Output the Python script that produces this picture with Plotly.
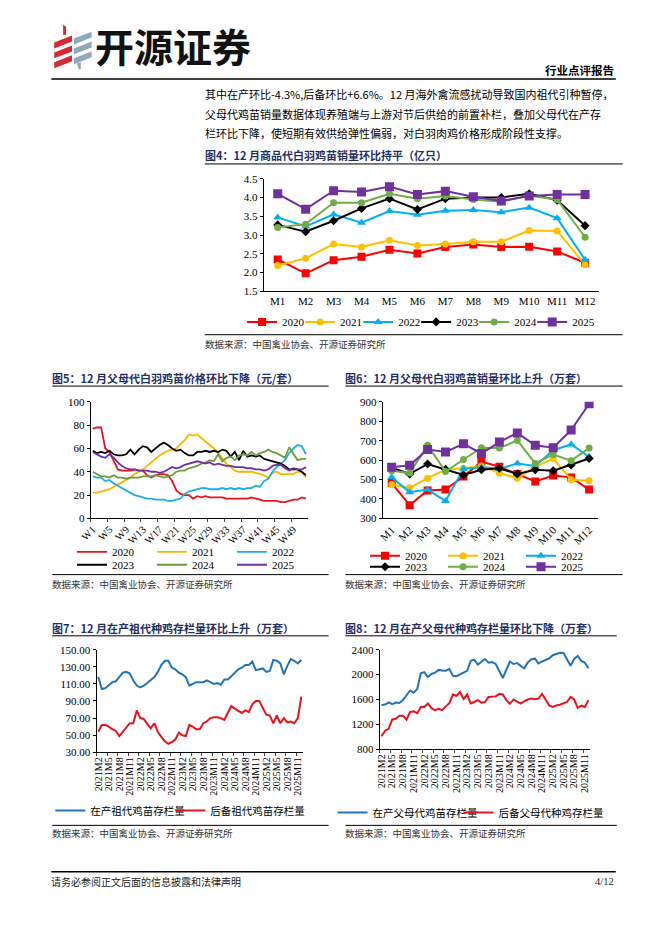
import plotly.graph_objects as go

W, H = 662, 936


def fx(p):
    return p / W


def fy(p):
    return 1 - p / H


SERIF = "Liberation Serif, Noto Sans CJK SC, serif"
CJK = "Noto Sans CJK SC, sans-serif"
NAVY = "#1F3064"

# ---------------- data ----------------
years = ["2020", "2021", "2022", "2023", "2024", "2025"]
months = ["M1", "M2", "M3", "M4", "M5", "M6", "M7", "M8", "M9", "M10", "M11", "M12"]
weeks = ["W%d" % i for i in range(1, 53)]
ym_labels = []
_y, _m = 2021, 2
for _ in range(59):
    ym_labels.append("%dM%d" % (_y, _m))
    _m += 1
    if _m > 12:
        _m, _y = 1, _y + 1

# Fig 4: commercial chick sales (100m)
c4_2020 = [2.35, 1.98, 2.33, 2.42, 2.61, 2.51, 2.68, 2.75, 2.68, 2.69, 2.56, 2.26]
c4_2021 = [2.19, 2.38, 2.76, 2.68, 2.86, 2.72, 2.76, 2.82, 2.82, 3.12, 3.11, 2.21]
c4_2022 = [3.47, 3.23, 3.55, 3.33, 3.64, 3.54, 3.65, 3.67, 3.61, 3.73, 3.45, 2.34]
c4_2023 = [3.27, 3.09, 3.38, 3.71, 3.97, 3.68, 3.97, 4.00, 4.00, 4.10, 3.93, 3.25]
c4_2024 = [3.20, 3.29, 3.86, 3.86, 4.10, 3.97, 4.04, 3.95, 3.89, 4.05, 3.95, 2.94]
c4_2025 = [4.10, 3.69, 4.18, 4.15, 4.29, 4.08, 4.17, 4.02, 3.91, 4.04, 4.08, 4.08]

# Fig 5: parent stock chick price (yuan/set), weekly
c5_2020 = [77, 78, 78, 60, 57, 50, 42, 41, 41, 41, 42, 41, 41, 37, 35, 37, 38, 38, 37, 32,
           24, 21, 20, 20, 17, 19, 18, 19, 18, 18, 18, 18, 17, 17, 17, 17, 17, 17, 18, 17,
           16, 15, 15, 15, 15, 14, 14, 15, 16, 16, 18, 17]
c5_2021 = [22, 22, 23, 24, 25, 27, 29, 31, 33, 35, 38, 40, 42, 45, 48, 51, 54, 56, 58, 59,
           60, 64, 67, 72, 71, 72, 69, 66, 63, 60, 56, 51, 47, 44, 41, 40, 40, 40, 40, 39,
           38, 37, 35, 39, 40, 38, 38, 38, 38, 40, 40, 35]
c5_2022 = [36, 35, 35, 32, 33, 30, 28, 26, 24, 22, 20, 19, 18, 17, 17, 16, 16, 16, 15, 15,
           16, 17, 21, 23, 24, 25, 26, 26, 25, 25, 25, 26, 25, 26, 25, 26, 25, 26, 26, 28,
           27, 32, 34, 40, 44, 47, 50, 56, 60, 63, 62, 55]
c5_2023 = [58, 56, 57, 56, 58, 55, 54, 54, 55, 59, 55, 59, 62, 61, 57, 60, 63, 65, 63, 60,
           58, 59, 56, 54, 54, 57, 57, 58, 57, 58, 57, 59, 58, 53, 57, 50, 58, 53, 54, 53,
           54, 51, 50, 49, 48, 47, 45, 42, 42, 42, 40, 37]
c5_2024 = [40, 38, 36, 36, 35, 37, 35, 35, 34, 35, 35, 35, 36, 36, 36, 37, 36, 35, 36, 37,
           40, 41, 41, 43, 44, 45, 47, 48, 50, 49, 55, 49, 52, 53, 50, 54, 55, 54, 57, 54,
           56, 57, 59, 57, 56, 54, 52, 61, 55, 50, 51, 51]
c5_2025 = [57, 55, 53, 52, 55, 52, 48, 45, 43, 42, 42, 41, 41, 41, 40, 40, 39, 40, 42, 44,
           43, 44, 46, 47, 48, 49, 48, 47, 48, 46, 47, 46, 45, 45, 44, 44, 44, 43, 43, 42,
           42, 41, 42, 45, 46, 46, 43, 41, 43, 42, 42, 44]

# Fig 6: parent stock chick sales (10k sets)
c6_2020 = [482, 368, 443, 448, 516, 592, 566, 528, 490, 521, 511, 448]
c6_2021 = [474, 457, 507, 550, 558, 570, 533, 507, 565, 608, 499, 494]
c6_2022 = [512, 435, 448, 389, 555, 563, 555, 583, 570, 651, 681, 617]
c6_2023 = [561, 529, 580, 553, 523, 550, 558, 529, 550, 545, 575, 608]
c6_2024 = [545, 533, 676, 541, 603, 664, 662, 701, 583, 629, 597, 662]
c6_2025 = [563, 573, 654, 642, 684, 634, 693, 740, 676, 664, 755, 890]

# Fig 7: grandparent stock inventory (10k sets)
c7_prod = [118, 104, 105, 109, 112, 113, 118, 123, 124, 122, 114, 108, 106, 108, 111, 114, 118, 124, 132, 137,
           137, 129, 127, 123, 121, 118, 108, 110, 112, 112, 112, 114, 112, 110, 111, 109, 115, 115, 119, 123,
           127, 129, 132, 132, 136, 126, 127, 128, 124, 125, 138, 137, 134, 121, 131, 139, 137, 134, 138]
c7_res = [54, 62, 62, 60, 57, 55, 49, 54, 58, 64, 64, 79, 70, 69, 63, 58, 64, 54, 48, 43,
          40, 42, 45, 53, 50, 49, 62, 60, 57, 57, 64, 66, 70, 71, 71, 70, 68, 77, 84, 81,
          78, 76, 79, 77, 86, 90, 90, 82, 74, 73, 64, 73, 64, 70, 65, 66, 64, 70, 95]

# Fig 8: parent stock inventory (10k sets)
c8_prod = [1510, 1520, 1555, 1525, 1550, 1545, 1590, 1660, 1745, 1710, 1770, 2020, 2040, 1960, 2010, 2030,
           2075, 2065, 2060, 2090, 1980, 1975, 2000, 2030, 2060, 2220, 2240, 2160, 2200, 2250, 2190, 2200,
           2170, 2060, 1945, 2080, 2210, 2170, 2185, 2140, 2100, 2195, 2245, 2255, 2180, 2210, 2230, 2260,
           2310, 2325, 2350, 2345, 2250, 2140, 2250, 2300, 2220, 2190, 2100]
c8_res = [1010, 1100, 1130, 1280, 1290, 1340, 1340, 1275, 1400, 1410, 1380, 1480, 1480, 1535, 1460, 1430,
          1450, 1430, 1490, 1540, 1680, 1660, 1720, 1610, 1680, 1535, 1560, 1590, 1550, 1560, 1640, 1640,
          1650, 1690, 1680, 1590, 1530, 1600, 1570, 1535, 1570, 1600, 1615, 1605, 1615, 1690, 1600, 1505,
          1480, 1505, 1515, 1535, 1560, 1640, 1600, 1465, 1500, 1480, 1590]

series_names7 = ["在产祖代鸡苗存栏量", "后备祖代鸡苗存栏量"]
series_names8 = ["在产父母代鸡苗存栏量", "后备父母代种鸡存栏量"]

# ---------------- styles ----------------
COL4 = ["#FF0000", "#FFC000", "#00B0F0", "#000000", "#70AD47", "#7030A0"]
SYM4 = ["square", "circle", "triangle-up", "diamond", "circle", "square"]
SIZE4 = [8, 7, 8, 7, 7, 9]
COL5 = ["#E8141B", "#F5B800", "#1AAFE6", "#000000", "#6E9B3E", "#7030A0"]
BLUE = "#2474B5"
RED = "#E8141B"

fig = go.Figure()

c4_legends = ["legend", "legend10", "legend11", "legend12", "legend13", "legend14"]
c4 = [c4_2020, c4_2021, c4_2022, c4_2023, c4_2024, c4_2025]
for i, vals in enumerate(c4):
    fig.add_trace(go.Scatter(
        x=months, y=vals, name=years[i], mode="lines+markers",
        line=dict(color=COL4[i], width=2),
        marker=dict(symbol=SYM4[i], size=SIZE4[i], color=COL4[i]),
        xaxis="x", yaxis="y", legend=c4_legends[i]))

c5 = [c5_2020, c5_2021, c5_2022, c5_2023, c5_2024, c5_2025]
for i, vals in enumerate(c5):
    fig.add_trace(go.Scatter(
        x=weeks, y=vals, name=years[i], mode="lines",
        line=dict(color=COL5[i], width=1.8),
        xaxis="x2", yaxis="y2", legend="legend2" if i < 3 else "legend3"))

c6 = [c6_2020, c6_2021, c6_2022, c6_2023, c6_2024, c6_2025]
for i, vals in enumerate(c6):
    fig.add_trace(go.Scatter(
        x=months, y=vals, name=years[i], mode="lines+markers",
        line=dict(color=COL4[i], width=2),
        marker=dict(symbol=SYM4[i], size=SIZE4[i], color=COL4[i]),
        xaxis="x3", yaxis="y3", legend="legend4" if i < 3 else "legend5"))

for vals, nm, col, lg in [(c7_prod, series_names7[0], BLUE, "legend6"),
                          (c7_res, series_names7[1], RED, "legend7")]:
    fig.add_trace(go.Scatter(x=ym_labels, y=vals, name=nm, mode="lines",
                             line=dict(color=col, width=2),
                             xaxis="x4", yaxis="y4", legend=lg))

for vals, nm, col, lg in [(c8_prod, series_names8[0], BLUE, "legend8"),
                          (c8_res, series_names8[1], RED, "legend9")]:
    fig.add_trace(go.Scatter(x=ym_labels, y=vals, name=nm, mode="lines",
                             line=dict(color=col, width=2),
                             xaxis="x5", yaxis="y5", legend=lg))


def xcat(x0, x1, anchor, rng, **kw):
    d = dict(domain=[fx(x0), fx(x1)], anchor=anchor, type="category", range=rng,
             showline=True, linecolor="#000", linewidth=1, showgrid=False, zeroline=False,
             tickfont=dict(family=SERIF, size=11, color="#000"), fixedrange=True)
    d.update(kw)
    return d


def yax(y0, y1, anchor, rng, dtick, **kw):
    d = dict(domain=[fy(y1), fy(y0)], anchor=anchor, range=rng, dtick=dtick,
             showline=True, linecolor="#000", linewidth=1, ticks="outside", ticklen=3,
             tickcolor="#000", showgrid=False, zeroline=False,
             tickfont=dict(family=SERIF, size=11, color="#000"), fixedrange=True)
    d.update(kw)
    return d


def leg(xpx, ypx, ew=0, size=11, fam=SERIF):
    d = dict(orientation="h", x=fx(xpx), y=fy(ypx), xanchor="left", yanchor="middle",
             bgcolor="rgba(0,0,0,0)", font=dict(family=fam, size=size, color="#000"),
             itemwidth=30, traceorder="normal", tracegroupgap=0, borderwidth=0)
    if ew:
        d.update(entrywidth=ew, entrywidthmode="pixels")
    return d


annotations = []


def ann(text, xpx, ypx, size, color="#000", xanchor="left", fam=CJK):
    annotations.append(dict(text=text, x=fx(xpx), y=fy(ypx), xref="paper", yref="paper",
                            xanchor=xanchor, yanchor="middle", showarrow=False,
                            font=dict(family=fam, size=size, color=color)))


shapes = []


def hline(x0, x1, y, w=1, color="#000"):
    shapes.append(dict(type="line", xref="paper", yref="paper", x0=fx(x0), x1=fx(x1),
                       y0=fy(y), y1=fy(y), line=dict(color=color, width=w)))


def poly(pts, color):
    path = "M " + " L ".join("%f,%f" % (fx(a), fy(b)) for a, b in pts) + " Z"
    shapes.append(dict(type="path", xref="paper", yref="paper", path=path,
                       fillcolor=color, line=dict(width=0)))


# logo
LR, LB = "#D7282F", "#8FA8BA"
poly([(53, 19), (56, 21), (56, 29), (53, 29)], LR)
for k in range(3):
    dy = k * 10
    poly([(44, 37 + dy), (62, 30 + dy), (62, 36 + dy), (44, 43 + dy)], LR)
    poly([(64, 33 + dy), (82, 26 + dy), (82, 32 + dy), (64, 39 + dy)], LB)
poly([(67, 58), (71, 57), (71, 64), (69, 64)], LB)

ann("<b>开源证券</b>", 83, 40, 39, "#111")
ann("<b>行业点评报告</b>", 615, 65, 11.5, "#000", "right")
hline(41, 615, 74, 1.6)

ann("其中在产环比-4.3%,后备环比+6.6%。12 月海外禽流感扰动导致国内祖代引种暂停，", 195, 89, 11)
ann("父母代鸡苗销量数据体现养殖端与上游对节后供给的前置补栏，叠加父母代在产存", 195, 109, 11)
ann("栏环比下降，使短期有效供给弹性偏弱，对白羽肉鸡价格形成阶段性支撑。", 195, 129, 11)

SRC = "数据来源：中国禽业协会、开源证券研究所"
TS = 11

# chart 4 frame
ann("<b>图4：12 月商品代白羽鸡苗销量环比持平（亿只）</b>", 195, 151, TS, NAVY)
hline(197, 622, 160, 1)
hline(197, 622, 333, 1)
ann(SRC, 195, 342, 9.5, "#333")

# chart 5 frame
ann("<b>图5：12 月父母代白羽鸡苗价格环比下降（元/套）</b>", 40, 377, TS, NAVY)
hline(42, 323, 385, 1)
hline(42, 323, 576, 1)
ann(SRC, 40, 585, 9.5, "#333")

# chart 6 frame
ann("<b>图6：12 月父母代白羽鸡苗销量环比上升（万套）</b>", 338, 377, TS, NAVY)
hline(340, 622, 385, 1)
hline(340, 622, 576, 1)
ann(SRC, 338, 585, 9.5, "#333")

# chart 7 frame
ann("<b>图7：12 月在产祖代种鸡存栏量环比上升（万套）</b>", 40, 630, TS, NAVY)
hline(42, 323, 638, 1)
hline(42, 323, 830, 1)
ann(SRC, 40, 838, 9.5, "#333")

# chart 8 frame
ann("<b>图8：12 月在产父母代种鸡存栏量环比下降（万套）</b>", 338, 630, TS, NAVY)
hline(340, 616, 638, 1)
hline(340, 616, 830, 1)
ann(SRC, 338, 838, 9.5, "#333")

# footer
hline(41, 615, 877, 1.6)
ann("请务必参阅正文后面的信息披露和法律声明", 39, 887, 10, "#222")
ann("4/12", 615, 887, 10.5, "#222", "right", SERIF)

legends4 = {}
for i, name in enumerate(c4_legends):
    legends4[name] = leg(235 + 59 * i, 320)

fig.update_layout(
    width=W, height=H, margin=dict(l=0, r=0, t=0, b=0),
    paper_bgcolor="white", plot_bgcolor="white",
    font=dict(family=SERIF, color="#000"),
    xaxis=xcat(257, 598, "y", [-0.5, 11.5]),
    yaxis=yax(175, 289, "x", [1.5, 4.5], 0.5, tickformat=".1f"),
    xaxis2=xcat(81, 302, "y2", [-0.5, 51.5], dtick=4, tick0=0, tickangle=-45,
                ticks="outside", ticklen=3, tickson="boundaries",
                tickfont=dict(family=SERIF, size=10.5, color="#000")),
    yaxis2=yax(401, 519, "x2", [0, 100], 20),
    xaxis3=xcat(378, 597, "y3", [-0.5, 11.5], tickangle=-45,
                tickfont=dict(family=SERIF, size=11, color="#000")),
    yaxis3=yax(401, 519, "x3", [300, 900], 100),
    xaxis4=xcat(87, 297, "y4", [-0.5, 58.5], dtick=3, tick0=0, tickangle=-90,
                ticks="outside", ticklen=3, tickson="boundaries",
                tickfont=dict(family=SERIF, size=10, color="#000")),
    yaxis4=yax(652, 756, "x4", [30, 150], 20, tick0=30, tickformat=".2f"),
    xaxis5=xcat(375, 589, "y5", [-0.5, 58.5], dtick=3, tick0=0, tickangle=-90,
                ticks="outside", ticklen=3, tickson="boundaries",
                tickfont=dict(family=SERIF, size=10, color="#000")),
    yaxis5=yax(652, 753, "x5", [800, 2400], 400, tick0=800),
    legend2=leg(62, 553, 35),
    legend3=leg(62, 566, 35),
    legend4=leg(360, 557, 33),
    legend5=leg(360, 568, 33),
    legend6=leg(40, 815, 0, 10.5, CJK),
    legend7=leg(162, 815, 0, 10.5, CJK),
    legend8=leg(327, 817, 0, 10.5, CJK),
    legend9=leg(455, 817, 0, 10.5, CJK),
    annotations=annotations,
    shapes=shapes,
    showlegend=True,
)
fig.update_layout(**legends4)

fig.write_html("out.html", config={"displayModeBar": False},
               post_script="document.body.style.margin='0px';document.body.style.padding='0px';")
